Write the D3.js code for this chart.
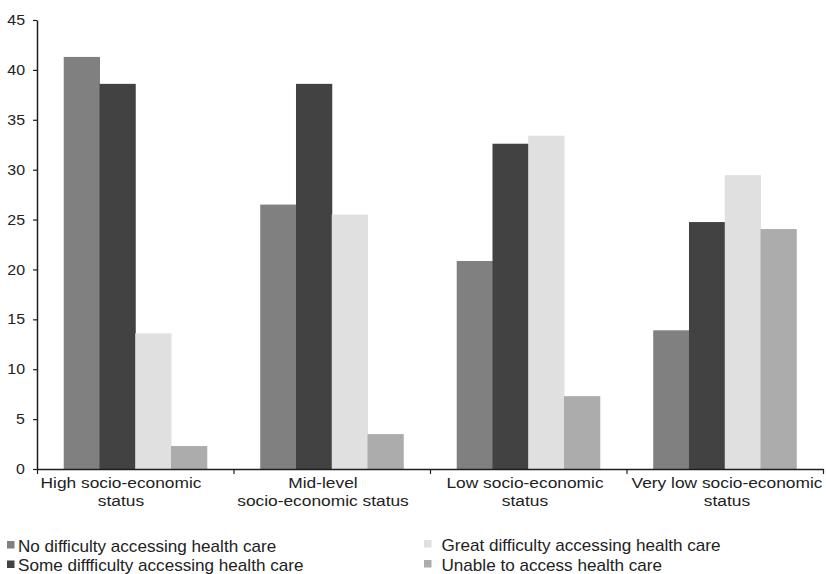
<!DOCTYPE html>
<html><head><meta charset="utf-8">
<script src="https://cdn.jsdelivr.net/npm/d3@7"></script>
<style>
html,body{margin:0;padding:0;background:#fff;}
svg{display:block;font-family:"Liberation Sans",Arial,Helvetica,sans-serif;}
</style></head>
<body>
<svg id="chart" width="826" height="574"></svg>
<script>
const categories = [
  ["High socio-economic", "status"],
  ["Mid-level", "socio-economic status"],
  ["Low socio-economic", "status"],
  ["Very low socio-economic", "status"]
];
const categoryKeys = ["High", "Mid", "Low", "VeryLow"];
const seriesNames = [
  "No difficulty accessing health care",
  "Some diffficulty accessing health care",
  "Great difficulty accessing health care",
  "Unable to access health care"
];
const seriesColors = ["#808080", "#424242", "#e0e0e0", "#acacac"];
const noDifficulty    = [41.3, 26.5, 20.85, 13.9];
const someDifficulty  = [38.6, 38.6, 32.6, 24.75];
const greatDifficulty = [13.6, 25.5, 33.4, 29.45];
const unableAccess    = [2.3, 3.5, 7.3, 24.05];
const yTicks = [0, 5, 10, 15, 20, 25, 30, 35, 40, 45];

const seriesValues = [noDifficulty, someDifficulty, greatDifficulty, unableAccess];

const svg = d3.select("#chart");
const plotLeft = 37, plotRight = 823, plotTop = 20, plotBottom = 469;
const ink = "#1e1e1e";

const x0 = d3.scaleBand().domain(categoryKeys).range([plotLeft, plotRight])
  .paddingInner(0.272).paddingOuter(0.136);
const x1 = d3.scaleBand().domain(d3.range(seriesNames.length)).range([0, x0.bandwidth()]);
const y = d3.scaleLinear().domain([0, 45]).range([plotBottom, plotTop]);
const color = d3.scaleOrdinal().domain(d3.range(4)).range(seriesColors);

// bars
const groups = svg.append("g").selectAll("g").data(categoryKeys).join("g")
  .attr("transform", d => `translate(${x0(d)},0)`);
groups.selectAll("rect")
  .data((d, ci) => seriesValues.map((vals, si) => ({si, v: vals[ci]})))
  .join("rect")
  .attr("x", d => x1(d.si))
  .attr("width", x1.bandwidth() + 0.5)
  .attr("y", d => y(d.v))
  .attr("height", d => y(0) - y(d.v))
  .attr("fill", d => color(d.si));

// y axis
const yAxis = svg.append("g").attr("transform", `translate(${plotLeft},0)`)
  .call(d3.axisLeft(y).tickValues(yTicks).tickSize(4).tickPadding(8).tickSizeOuter(0));
yAxis.select(".domain").attr("stroke", ink).attr("stroke-width", 1.5);
yAxis.selectAll(".tick line").attr("stroke", ink).attr("stroke-width", 1.2);
yAxis.selectAll(".tick text")
  .attr("fill", "#222").attr("font-size", 14.5)
  .each(function() {
    const t = d3.select(this);
    const xx = +t.attr("x");
    t.attr("x", null).attr("transform", `translate(${xx},0) scale(1.1,1)`);
  });

// x axis
const xScaleLin = d3.scaleLinear().domain([0, categoryKeys.length]).range([plotLeft, plotRight]);
const xAxis = svg.append("g").attr("transform", `translate(0,${plotBottom})`)
  .call(d3.axisBottom(xScaleLin).tickValues(d3.range(categoryKeys.length + 1))
    .tickSize(5).tickSizeOuter(0).tickFormat(""));
xAxis.select(".domain").attr("stroke", ink).attr("stroke-width", 1.5);
xAxis.selectAll(".tick line").attr("stroke", ink).attr("stroke-width", 1.2);

// category labels
const labelX = d3.scalePoint().domain(categoryKeys).range([121, 727]);
const labels = svg.append("g").selectAll("g").data(categoryKeys).join("g")
  .attr("transform", d => `translate(${labelX(d)},0)`);
labels.each(function(d, i) {
  const g = d3.select(this);
  categories[i].forEach((line, li) => {
    g.append("text")
      .attr("transform", `translate(0,${488 + li * 17.5}) scale(1.12,1)`)
      .attr("text-anchor", "middle")
      .attr("font-size", 15.5)
      .attr("fill", "#222")
      .text(line);
  });
});

// legend
const legendPos = [
  {x: 7, y: 551.5}, {x: 7, y: 571}, {x: 424, y: 550.5}, {x: 424, y: 570.5}
];
const legend = svg.append("g").selectAll("g").data(seriesNames).join("g")
  .attr("transform", (d, i) => `translate(${legendPos[i].x},${legendPos[i].y})`);
legend.append("rect")
  .attr("x", 0).attr("y", -10.5).attr("width", 7.5).attr("height", 7.5)
  .attr("fill", (d, i) => color(i));
legend.append("text")
  .attr("transform", (d, i) => `translate(${i < 2 ? 11 : 17.5},0) scale(1.07,1)`)
  .attr("font-size", 16)
  .attr("fill", "#222")
  .text(d => d);
</script>
</body></html>
